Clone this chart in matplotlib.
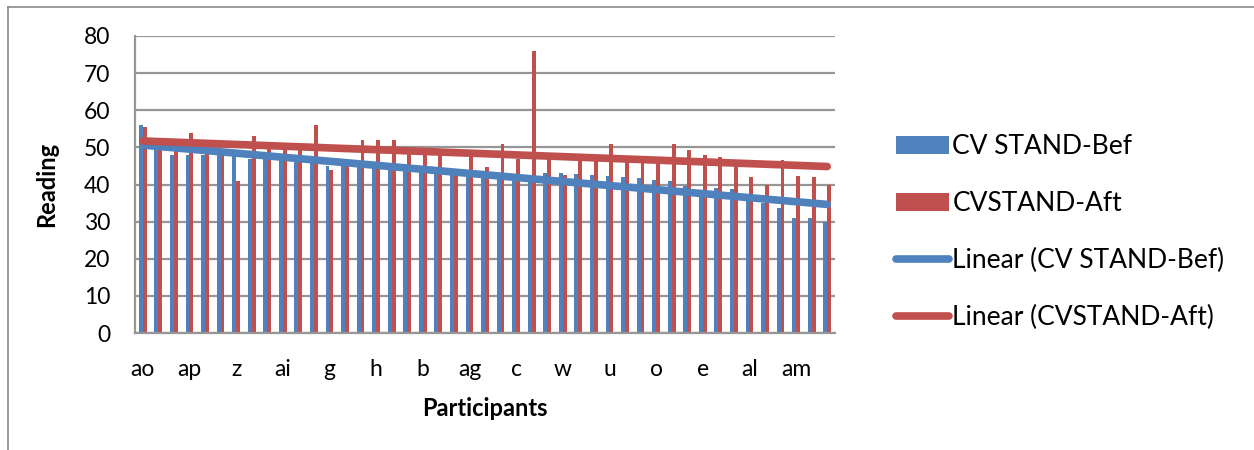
import numpy as np
import matplotlib
matplotlib.use("Agg")
import matplotlib.pyplot as plt
from matplotlib.lines import Line2D

plt.rcParams['font.family'] = ['Lato', 'DejaVu Sans']

# every third participant is labelled on the axis
shown_labels = ['ao', 'ap', 'z', 'ai', 'g', 'h', 'b', 'ag', 'c', 'w', 'u', 'o', 'e', 'al', 'am']

bef = [56, 50, 48, 48, 48, 48, 48, 47, 47, 47, 46.5, 46, 45, 45, 45,
       46, 45, 44, 43.5, 43, 42.5, 42, 42, 41.5, 41, 41, 43, 43, 42.7, 42.5,
       42.3, 42, 41.8, 41.3, 41, 39.5, 38.5, 39, 38.7, 36.2, 35, 33.7, 31, 31, 30]
aft = [55.4, 50, 49, 54, 50, 48, 41, 53, 50, 50, 50, 56, 44, 45, 52,
       52, 52, 49, 48.5, 48, 42.5, 48, 44.7, 51, 47, 76, 47, 42.5, 46.5, 46.5,
       51, 46.5, 46, 46, 51, 49.4, 48, 47.3, 46, 42, 40, 46.7, 42.4, 42, 40]

blue = '#4F81BD'
red = '#C0504D'
grid_c = '#969696'

n = len(bef)
x = np.arange(n)

fig = plt.figure(figsize=(12.54, 4.5), dpi=100)
ax = fig.add_axes([135/1254, 1-333/450, 700/1254, 297/450])

w = 0.25
ax.bar(x - w/2, bef, w, color=blue, label='CV STAND-Bef', zorder=2)
ax.bar(x + w/2, aft, w, color=red, label='CVSTAND-Aft', zorder=2)

# linear trendlines
kb = np.polyfit(x, bef, 1)
ka = np.polyfit(x, aft, 1)
ax.plot(x, np.polyval(kb, x), color=blue, lw=5.5, solid_capstyle='round', zorder=3,
        label='Linear (CV STAND-Bef)')
ax.plot(x, np.polyval(ka, x), color=red, lw=5.5, solid_capstyle='round', zorder=3,
        label='Linear (CVSTAND-Aft)')

ax.set_xlim(-0.5, n - 0.5)
ax.set_ylim(0, 80)
ax.set_yticks(range(0, 81, 10))
ax.set_xticks(x[::3])
ax.set_xticklabels(shown_labels)
ax.tick_params(axis='both', length=0, labelsize=16.5)
ax.tick_params(axis='x', pad=19)
ax.tick_params(axis='y', pad=18)
ax.grid(axis='y', color=grid_c, lw=1.6, zorder=0)
ax.set_axisbelow(True)
for s in ['top', 'right']:
    ax.spines[s].set_visible(False)
for s in ['left', 'bottom']:
    ax.spines[s].set_color(grid_c)
    ax.spines[s].set_linewidth(1.6)

ax.set_ylabel('Reading', fontsize=17, fontweight='bold', labelpad=18)
ax.set_xlabel('Participants', fontsize=17, fontweight='bold', labelpad=12)

h, l = ax.get_legend_handles_labels()
order = [2, 3, 0, 1]
leg = fig.legend([h[i] for i in order], [l[i] for i in order],
                 loc='center left', bbox_to_anchor=(872/1254, 1-232/450),
                 frameon=False, fontsize=19, handlelength=2.0, handleheight=0.65,
                 handletextpad=0.15, labelspacing=1.2)

# outer chart border
fig.add_artist(Line2D([8/1254, 8/1254], [0, 1-7/450], color='#8a8a8a', lw=1.2))
fig.add_artist(Line2D([8/1254, 1], [1-7/450, 1-7/450], color='#8a8a8a', lw=1.2))

fig.savefig('out.png', dpi=100)
